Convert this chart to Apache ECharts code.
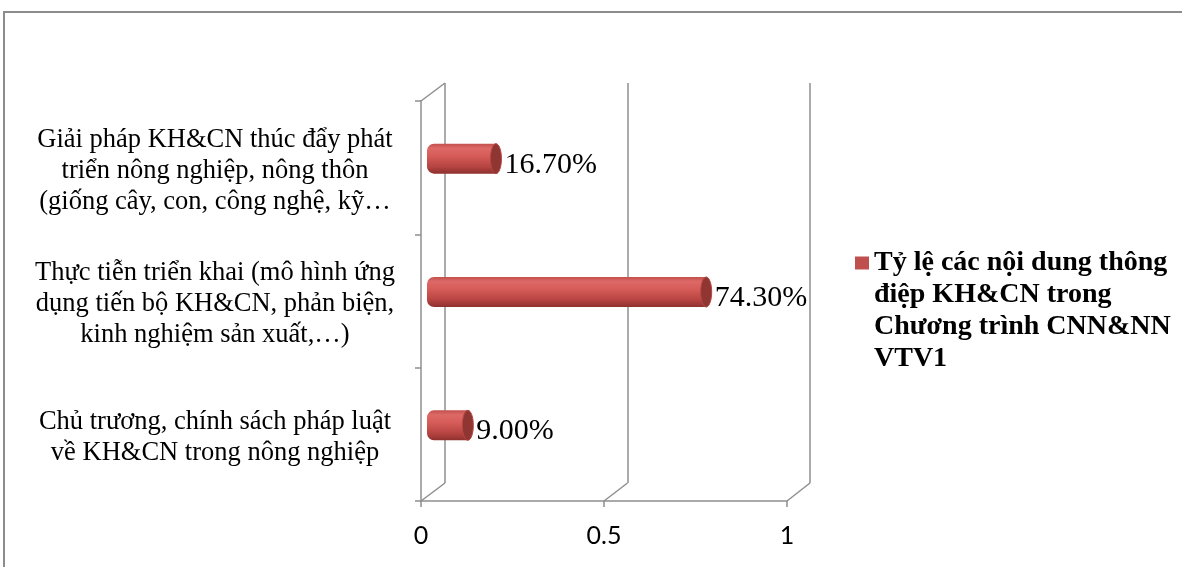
<!DOCTYPE html>
<html>
<head>
<meta charset="utf-8">
<script src="https://cdn.jsdelivr.net/npm/echarts@6/dist/echarts.min.js"></script>
<style>
html,body{margin:0;padding:0;background:#fff;}
#c{width:1182px;height:567px;}
</style>
</head>
<body>
<div id="c"></div>
<script>
// ---- data ----
const categories = [
  "Chủ trương, chính sách pháp luật\nvề KH&CN trong nông nghiệp",
  "Thực tiễn triển khai (mô hình ứng\ndụng tiến bộ KH&CN, phản biện,\nkinh nghiệm sản xuất,…)",
  "Giải pháp KH&CN thúc đẩy phát\ntriển nông nghiệp, nông thôn\n(giống cây, con, công nghệ, kỹ…"
];
const values = [0.09, 0.743, 0.167];
const seriesName = "Tỷ lệ các nội dung thông\nđiệp KH&CN trong\nChương trình CNN&NN\nVTV1";
const xTicks = { min: 0, max: 1, interval: 0.5 };

// ---- layout ----
const FRONT = { left: 421, top: 101, width: 366, height: 400 };
const DX = 24, DY = -18;
const BACK = { left: FRONT.left + DX, top: FRONT.top + DY, width: 365, height: 400 };
const MID = { left: FRONT.left + DX / 2, top: FRONT.top + DY / 2, width: 365, height: 400 };
const LABELS = { left: FRONT.left, top: FRONT.top + 3, width: FRONT.width, height: FRONT.height };
const GRAY = '#8f8f8f';

const chart = echarts.init(document.getElementById('c'));

function renderBar(params, api) {
  const v = api.value(0);
  const cat = api.value(1);
  const p0 = api.coord([0, cat]);
  const p1 = api.coord([v, cat]);
  const h = api.size([0, 1])[1] * 0.225;
  const cy = p0[1];
  const rx = 5.5;
  const x0 = p0[0] - 6;
  const x1 = p1[0] + 2;
  const grad = new echarts.graphic.LinearGradient(0, 0, 0, 1, [
    { offset: 0, color: '#c2504d' },
    { offset: 0.15, color: '#dd6966' },
    { offset: 0.4, color: '#d65c59' },
    { offset: 0.75, color: '#b84542' },
    { offset: 1, color: '#8e312f' }
  ]);
  return {
    type: 'group',
    children: [
      {
        type: 'rect',
        shape: { x: x0, y: cy - h / 2, width: x1 - x0, height: h, r: [7, 0, 0, 7] },
        style: { fill: grad }
      },
      {
        type: 'ellipse',
        shape: { cx: x1, cy: cy, rx: rx, ry: h / 2 },
        style: { fill: '#8f3532', stroke: '#b84643', lineWidth: 1 }
      },
      {
        type: 'text',
        style: {
          text: (v * 100).toFixed(2) + '%',
          x: x1 + rx + 3,
          y: cy + 6,
          verticalAlign: 'middle',
          align: 'left',
          font: '30px "Liberation Serif"',
          fill: '#000'
        }
      }
    ]
  };
}

const option = {
  animation: false,
  backgroundColor: '#ffffff',
  grid: [
    Object.assign({ containLabel: false }, BACK),
    Object.assign({ containLabel: false }, FRONT),
    Object.assign({ containLabel: false }, MID),
    Object.assign({ containLabel: false }, LABELS)
  ],
  xAxis: [
    {
      gridIndex: 0, type: 'value', min: xTicks.min, max: xTicks.max, interval: xTicks.interval,
      axisLine: { show: false }, axisTick: { show: false }, axisLabel: { show: false },
      splitLine: { show: true, lineStyle: { color: GRAY, width: 1.5 } }
    },
    {
      gridIndex: 1, type: 'value', min: xTicks.min, max: xTicks.max, interval: xTicks.interval,
      axisLine: { show: true, lineStyle: { color: GRAY, width: 1.5 } },
      axisTick: { show: true, length: 6, lineStyle: { color: GRAY, width: 1.5 } },
      axisLabel: { show: true, margin: 22, color: '#000', fontSize: 25, fontFamily: 'Lato' },
      splitLine: { show: false }
    },
    {
      gridIndex: 2, type: 'value', min: xTicks.min, max: xTicks.max, show: false
    },
    {
      gridIndex: 3, type: 'value', min: xTicks.min, max: xTicks.max, show: false
    }
  ],
  yAxis: [
    {
      gridIndex: 0, type: 'category', data: categories, show: false
    },
    {
      gridIndex: 1, type: 'category', data: categories,
      axisLine: { show: true, lineStyle: { color: GRAY, width: 1.5 } },
      axisTick: { show: true, length: 6, lineStyle: { color: GRAY, width: 1.5 } },
      axisLabel: { show: false },
      splitLine: { show: false }
    },
    {
      gridIndex: 2, type: 'category', data: categories, show: false
    },
    {
      gridIndex: 3, type: 'category', data: categories,
      axisLine: { show: false }, axisTick: { show: false }, splitLine: { show: false },
      axisLabel: {
        show: true, margin: 206, align: 'center', color: '#000',
        fontSize: 26.5, lineHeight: 31, fontFamily: 'Liberation Serif'
      }
    }
  ],
  legend: {
    show: true,
    left: 855,
    top: 151,
    padding: 0,
    orient: 'vertical',
    icon: 'rect',
    itemWidth: 14,
    itemHeight: 13,
    data: [{ name: seriesName, icon: 'rect' }],
    formatter: name => '\n\n\n' + name,
    textStyle: {
      fontFamily: 'Liberation Serif', fontWeight: 'bold', fontSize: 28, lineHeight: 32,
      color: '#000'
    }
  },
  series: [
    {
      name: seriesName,
      type: 'custom',
      xAxisIndex: 2,
      yAxisIndex: 2,
      itemStyle: { color: '#c0504d' },
      renderItem: renderBar,
      encode: { x: 0, y: 1 },
      data: values.map((v, i) => [v, i])
    }
  ]
};
chart.setOption(option);

// 3D frame diagonals (decoration), computed via the axes
const diag = [];
const tickVals = [];
for (let t = xTicks.min; t <= xTicks.max + 1e-9; t += xTicks.interval) tickVals.push(t);
tickVals.forEach(t => {
  const xf = chart.convertToPixel({ xAxisIndex: 1 }, t);
  const xb = chart.convertToPixel({ xAxisIndex: 0 }, t);
  diag.push([xf, FRONT.top + FRONT.height, xb, BACK.top + BACK.height]);
});
const x0f = chart.convertToPixel({ xAxisIndex: 1 }, xTicks.min);
const x0b = chart.convertToPixel({ xAxisIndex: 0 }, xTicks.min);
diag.push([x0f, FRONT.top, x0b, BACK.top]);

chart.setOption({
  graphic: [
    {
      type: 'rect', silent: true, z: -10,
      shape: { x: 4, y: 12, width: 1300, height: 700 },
      style: { fill: 'none', stroke: '#8c8c8c', lineWidth: 2 }
    }
  ].concat(diag.map(d => ({
    type: 'line', silent: true,
    shape: { x1: d[0], y1: d[1], x2: d[2], y2: d[3] },
    style: { stroke: GRAY, lineWidth: 1.5 }
  })))
});
</script>
</body>
</html>
